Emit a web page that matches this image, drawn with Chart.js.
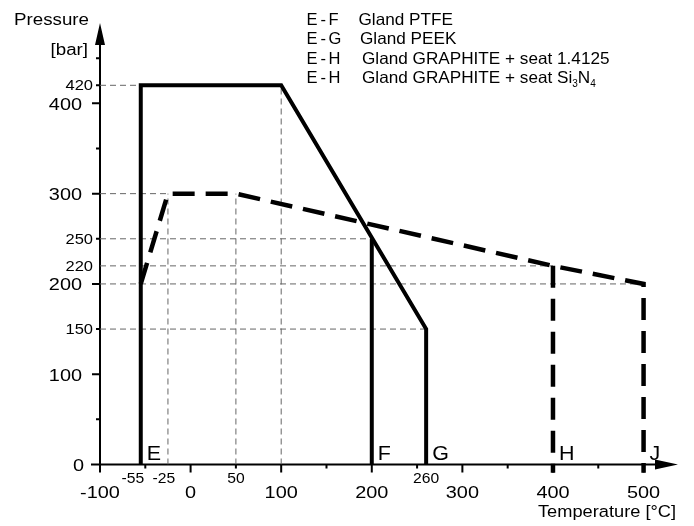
<!DOCTYPE html>
<html>
<head>
<meta charset="utf-8">
<script src="https://cdn.jsdelivr.net/npm/chart.js@4"></script>
<style>
  body { margin: 0; background: #fff; }
  #wrap { width: 694px; height: 526px; position: relative; }
</style>
</head>
<body>
<div id="wrap"><canvas id="chart"></canvas></div>
<script>
// Curves (temperature in °C, pressure in bar)
const eGX = [-55, -55, 100, 260, 260];
const eGY = [0, 420, 420, 150, 0];
const eFX = [200, 200];
const eFY = [0, 250];
const eJX = [-55, -25, 50, 400, 500, 500];
const eJY = [200, 300, 300, 220, 200, -9];
const eHX = [400, 400];
const eHY = [220, -9];

// Guide lines (x1, y1, x2, y2)
const guides = [
  [-100, 420, -55, 420],
  [-100, 300, -25, 300],
  [-100, 250, 200, 250],
  [-100, 220, 400, 220],
  [-100, 200, 500, 200],
  [-100, 150, 260, 150],
  [-25, 0, -25, 300],
  [50, 0, 50, 300],
  [100, 0, 100, 420]
];

// Ticks and labels
const xMajorTicks = [-100, 0, 100, 200, 300, 400, 500];
const xMinorTicks = [-50, 50, 150, 250, 350, 450];
const xMarkLabels = [-55, -25, 50, 260];
const yMajorTicks = [0, 100, 200, 300, 400];
const yMinorTicks = [50, 150, 250, 350, 420, 450];
const yMarkLabels = [420, 250, 220, 150];
const pointLetters = ['E', 'F', 'G', 'H', 'J'];
const pointLetterX = [-55, 200, 260, 400, 500];
const legendFrom = ['E', 'E', 'E', 'E'];
const legendTo = ['F', 'G', 'H', 'H'];
const legendTexts = ['Gland PTFE', 'Gland PEEK', 'Gland GRAPHITE + seat 1.4125', 'Gland GRAPHITE + seat Si'];

const FONT = '"Liberation Sans", Arial, Helvetica, sans-serif';

function pts(xs, ys) {
  return xs.map((x, i) => ({ x: x, y: ys[i] }));
}

function txt(ctx, s, x, y, size, align, sx) {
  sx = sx || 1.17;
  ctx.save();
  ctx.font = size + 'px ' + FONT;
  const w = ctx.measureText(s).width * sx;
  let x0 = x;
  if (align === 'right') x0 = x - w;
  if (align === 'center') x0 = x - w / 2;
  ctx.translate(x0, y);
  ctx.scale(sx, 1);
  ctx.textAlign = 'left';
  ctx.textBaseline = 'alphabetic';
  ctx.fillStyle = '#000';
  ctx.fillText(s, 0, 0);
  ctx.restore();
  return x0 + w;
}

const datasets = [
  { data: pts(eGX, eGY), borderColor: '#000', borderWidth: 4, borderJoinStyle: 'miter' },
  { data: pts(eFX, eFY), borderColor: '#000', borderWidth: 4 },
  { data: pts(eJX, eJY), borderColor: '#000', borderWidth: 4.5, borderDash: [22, 11], clip: false },
  { data: pts(eHX, eHY), borderColor: '#000', borderWidth: 4.5, borderDash: [22, 11], clip: false }
];
guides.forEach(g => {
  datasets.push({
    data: [{ x: g[0], y: g[1] }, { x: g[2], y: g[3] }],
    borderColor: '#666', borderWidth: 1, borderDash: [6, 4]
  });
});

const axesPlugin = {
  id: 'axes',
  beforeDatasetsDraw(chart) {
    const ctx = chart.ctx;
    const xs = chart.scales.x, ys = chart.scales.y;
    const x0 = xs.getPixelForValue(-100), y0 = ys.getPixelForValue(0);
    const top = chart.chartArea.top, right = chart.chartArea.right;
    ctx.save();
    ctx.strokeStyle = '#000';
    ctx.fillStyle = '#000';
    ctx.lineWidth = 2;
    ctx.beginPath();
    ctx.moveTo(x0, y0);
    ctx.lineTo(x0, top + 20);
    ctx.moveTo(x0 - 9, y0);
    ctx.lineTo(right - 22, y0);
    // ticks
    yMajorTicks.forEach(v => { const p = ys.getPixelForValue(v); ctx.moveTo(x0 - 8, p); ctx.lineTo(x0, p); });
    yMinorTicks.forEach(v => { const p = ys.getPixelForValue(v); ctx.moveTo(x0 - 4, p); ctx.lineTo(x0, p); });
    xMajorTicks.forEach(v => { const p = xs.getPixelForValue(v); ctx.moveTo(p, y0); ctx.lineTo(p, y0 + 8); });
    xMinorTicks.forEach(v => { const p = xs.getPixelForValue(v); ctx.moveTo(p, y0); ctx.lineTo(p, y0 + 4); });
    ctx.stroke();
    // arrows
    ctx.beginPath();
    ctx.moveTo(x0, top);
    ctx.lineTo(x0 - 5, top + 22);
    ctx.lineTo(x0 + 5, top + 22);
    ctx.closePath();
    ctx.moveTo(right, y0);
    ctx.lineTo(right - 23, y0 - 5);
    ctx.lineTo(right - 23, y0 + 5);
    ctx.closePath();
    ctx.fill();
    ctx.restore();
  },
  afterDraw(chart) {
    const ctx = chart.ctx;
    const xs = chart.scales.x, ys = chart.scales.y;
    yMajorTicks.forEach(v => txt(ctx, String(v), v === 0 ? 84 : 82, ys.getPixelForValue(v) + 6.5, 17, 'right'));
    yMarkLabels.forEach(v => txt(ctx, String(v), 93, ys.getPixelForValue(v) + 5, 15, 'right', 1.1));
    xMajorTicks.forEach(v => txt(ctx, String(v), xs.getPixelForValue(v), 498, 17, 'center'));
    const shift = { '-55': -8, '-25': -4 };
    xMarkLabels.forEach(v => txt(ctx, String(v), xs.getPixelForValue(v) + (shift[v] || 0), 483, 14, 'center', 1.12));
    pointLetters.forEach((l, i) => txt(ctx, l, xs.getPixelForValue(pointLetterX[i]) + 6, 460, 19.5, 'left', 1.1));
    txt(ctx, 'Pressure', 89, 25, 16, 'right');
    txt(ctx, '[bar]', 88, 55, 16, 'right');
    txt(ctx, 'Temperature [°C]', 676, 517, 16.3, 'right', 1.12);
    const textX = [358.5, 360, 362, 362];
    legendFrom.forEach((k, i) => {
      const by = 25 + i * 19.4;
      txt(ctx, k, 306.5, by, 16.5, 'left', 1.0);
      txt(ctx, '-', 320.5, by, 16.5, 'left', 1.0);
      txt(ctx, legendTo[i], 328.5, by, 16.5, 'left', 1.0);
      let e = txt(ctx, legendTexts[i], textX[i], by, 16.5, 'left', 1.04);
      if (i === 3) {
        e = txt(ctx, '3', e, by + 3.5, 10, 'left', 1.0);
        e = txt(ctx, 'N', e, by, 16.5, 'left', 1.04);
        txt(ctx, '4', e, by + 3.5, 10, 'left', 1.0);
      }
    });
  }
};

new Chart(document.getElementById('chart'), {
  type: 'scatter',
  data: { datasets: datasets },
  options: {
    responsive: true,
    maintainAspectRatio: false,
    animation: false,
    showLine: true,
    elements: { point: { radius: 0, hoverRadius: 0 }, line: { tension: 0, borderCapStyle: 'butt' } },
    layout: { padding: { left: 100, right: 16, top: 23, bottom: 61.5 } },
    scales: {
      x: { type: 'linear', min: -100, max: 538, display: false },
      y: { type: 'linear', min: 0, max: 489, display: false }
    },
    plugins: { legend: { display: false }, tooltip: { enabled: false } }
  },
  plugins: [axesPlugin]
});
</script>
</body>
</html>
